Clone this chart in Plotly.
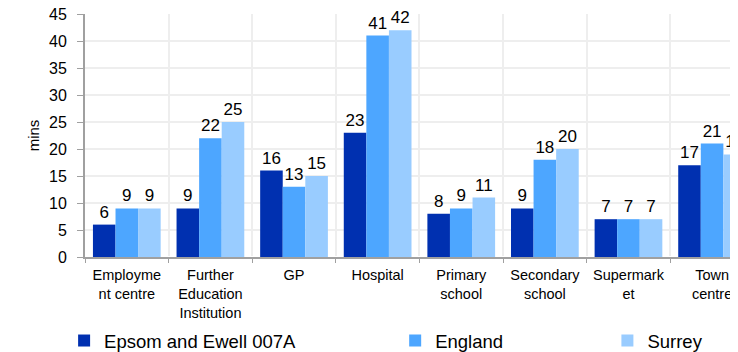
import plotly.graph_objects as go

categories = ["Employme<br>nt centre", "Further<br>Education<br>Institution", "GP", "Hospital",
              "Primary<br>school", "Secondary<br>school", "Supermark<br>et", "Town<br>centre"]
epsom = [6, 9, 16, 23, 8, 9, 7, 17]
england = [9, 22, 13, 41, 9, 18, 7, 21]
surrey = [9, 25, 15, 42, 11, 20, 7, 19]

series = [("Epsom and Ewell 007A", epsom, "#0030B0", "legend", -0.032),
          ("England", england, "#4DA6FF", "legend2", 0.475),
          ("Surrey", surrey, "#99CCFF", "legend3", 0.80)]

fig = go.Figure()
legend_layout = {}
for name, vals, col, leg, lx in series:
    fig.add_trace(go.Bar(
        x=categories, y=vals, name=name, marker_color=col, marker_line_width=0,
        text=[str(v) for v in vals], textposition="outside",
        textfont=dict(size=17, color="#000000"), constraintext="none", cliponaxis=False,
        legend=leg,
    ))
    legend_layout[leg] = dict(orientation="h", x=lx, xanchor="left",
                              y=0.032, yref="container", yanchor="middle",
                              font=dict(size=18.5), itemwidth=30,
                              bgcolor="rgba(0,0,0,0)")

fig.update_layout(
    width=730, height=344,
    margin=dict(l=77, r=0, t=6, b=95),
    paper_bgcolor="white", plot_bgcolor="white",
    font=dict(family="Liberation Sans, Arial, sans-serif", color="#000000"),
    barmode="group", bargap=0.19, bargroupgap=0,
    showlegend=True,
    xaxis=dict(range=[-0.5, 7.31], tickson="boundaries", ticks="outside", ticklen=4,
               tickcolor="#a0a0a0", showline=True, linecolor="#a0a0a0", linewidth=2,
               showgrid=True, gridcolor="#eeeeee", gridwidth=2, automargin=False,
               tickfont=dict(size=14.5), tickangle=0, ticklabelstandoff=4),
    yaxis=dict(range=[0, 45], dtick=5, ticks="outside", ticklen=6, tickcolor="#a0a0a0",
               showline=True, linecolor="#a0a0a0", linewidth=2, automargin=False,
               showgrid=True, gridcolor="#eeeeee", gridwidth=2,
               ticklabeloverflow="allow", ticklabelstandoff=7,
               tickfont=dict(size=16), title=dict(text="mins", font=dict(size=15), standoff=6)),
    **legend_layout,
)

fig.write_html("out.html")
